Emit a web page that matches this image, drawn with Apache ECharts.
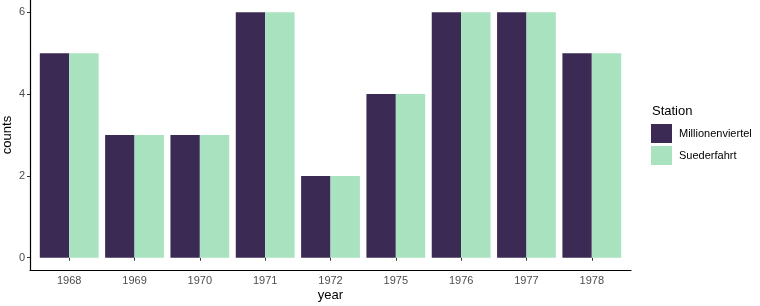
<!DOCTYPE html>
<html>
<head>
<meta charset="utf-8">
<script src="https://cdn.jsdelivr.net/npm/echarts@6/dist/echarts.min.js"></script>
<style>
  html, body { margin: 0; padding: 0; background: #fff; }
  #chart { width: 760px; height: 306px; }
</style>
</head>
<body>
<div id="chart"></div>
<script>
const years = ['1968', '1969', '1970', '1971', '1972', '1975', '1976', '1977', '1978']
const millionenviertel = [5, 3, 3, 6, 2, 4, 6, 6, 5]
const suederfahrt = [5, 3, 3, 6, 2, 4, 6, 6, 5]
const yTicks = [0, 2, 4, 6]

const font = 'Liberation Sans, Arial, sans-serif'

// outer panel: 30..631 px wide, categories span 0.4..9.6 (ggplot discrete expansion)
const panelLeft = 30, panelRight = 631
const unit = (panelRight - panelLeft) / 9.2
const inset = 0.1 * unit

const chart = echarts.init(document.getElementById('chart'), null, { renderer: 'canvas' })

chart.setOption({
  animation: false,
  backgroundColor: '#fff',
  title: {
    text: 'Station',
    left: 647, top: 100,
    textStyle: { fontFamily: font, fontSize: 13, fontWeight: 'normal', color: '#000' },
  },
  legend: {
    orient: 'vertical',
    left: 646, top: 119,
    itemWidth: 21, itemHeight: 19, itemGap: 3,
    icon: 'rect',
    textStyle: { fontFamily: font, fontSize: 11, color: '#000', padding: [0, 0, 0, 2] },
    data: ['Millionenviertel', 'Suederfahrt'],
  },
  grid: [
    { left: panelLeft, right: 760 - panelRight, top: 0, bottom: 36, containLabel: false, outerBoundsMode: 'none' },
    { left: panelLeft + inset, right: 760 - panelRight + inset, top: 0, bottom: 36, containLabel: false, outerBoundsMode: 'none' },
  ],
  xAxis: [
    {
      // axis line only
      gridIndex: 0,
      type: 'value',
      min: 0, max: 1,
      name: 'year',
      nameLocation: 'middle',
      nameGap: 19,
      nameTextStyle: { fontFamily: font, fontSize: 13, color: '#000' },
      splitLine: { show: false },
      axisLine: { show: true, onZero: false, lineStyle: { color: '#000', width: 1.2 } },
      axisTick: { show: false },
      axisLabel: { show: false },
    },
    {
      gridIndex: 1,
      type: 'category',
      data: years,
      axisLine: { show: false },
      axisTick: { show: true, alignWithLabel: true, length: 3, lineStyle: { color: '#333' } },
      axisLabel: { fontFamily: font, fontSize: 11, color: '#4d4d4d', margin: 5 },
    },
  ],
  yAxis: [
    {
      gridIndex: 0,
      type: 'value',
      min: -0.3, max: 6.3,
      name: 'counts',
      nameLocation: 'middle',
      nameGap: 16,
      nameRotate: 90,
      nameMoveOverlap: false,
      nameTextStyle: { fontFamily: font, fontSize: 13, color: '#000' },
      splitLine: { show: false },
      axisLine: { show: true, onZero: false, lineStyle: { color: '#000', width: 1.2 } },
      axisTick: { show: true, customValues: yTicks, length: 3, lineStyle: { color: '#333' } },
      axisLabel: {
        customValues: yTicks,
        fontFamily: font, fontSize: 11, color: '#4d4d4d', margin: 5,
      },
    },
    {
      gridIndex: 1,
      type: 'value',
      min: -0.3, max: 6.3,
      show: false,
    },
  ],
  series: [
    {
      name: 'Millionenviertel',
      type: 'bar',
      xAxisIndex: 1, yAxisIndex: 1,
      data: millionenviertel,
      barCategoryGap: '10%',
      barGap: '0%',
      itemStyle: { color: '#3b2b54' },
    },
    {
      name: 'Suederfahrt',
      type: 'bar',
      xAxisIndex: 1, yAxisIndex: 1,
      data: suederfahrt,
      barCategoryGap: '10%',
      barGap: '0%',
      itemStyle: { color: '#a8e2bf' },
    },
  ],
})
</script>
</body>
</html>
